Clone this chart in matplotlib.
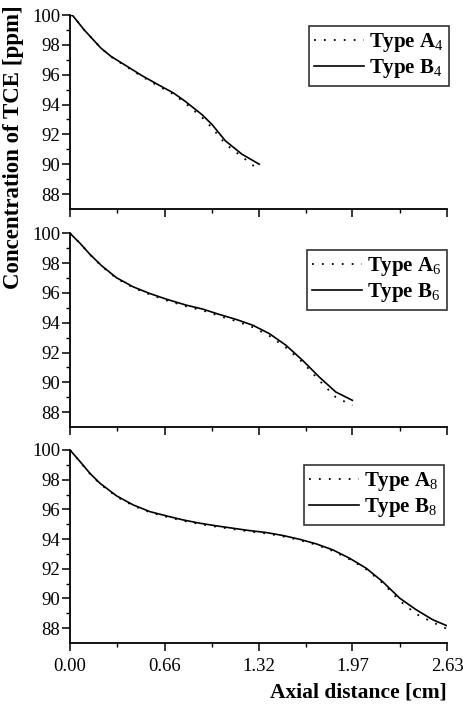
import numpy as np
import matplotlib
matplotlib.use('Agg')
import matplotlib.pyplot as plt
from matplotlib.ticker import FixedLocator

plt.rcParams['font.family'] = 'Liberation Serif'
plt.rcParams['mathtext.fontset'] = 'custom'
plt.rcParams['mathtext.rm'] = 'Liberation Serif'
plt.rcParams['mathtext.it'] = 'Liberation Serif'

# panel 1 : type 4
x4 = [0.0, 0.02, 0.099, 0.216, 0.287, 0.38, 0.498, 0.615, 0.721, 0.803, 0.92, 0.99,
      1.085, 1.20, 1.32]
a4 = [100.0, 99.95, 99.0, 97.78, 97.2, 96.62, 95.9, 95.25, 94.7, 94.1, 93.15, 92.45,
      91.35, 90.5, 89.6]
b4 = [100.0, 99.95, 99.0, 97.78, 97.22, 96.67, 95.96, 95.33, 94.78, 94.22, 93.33, 92.67,
      91.56, 90.67, 90.0]

# panel 2 : type 6
x6 = [0.0, 0.07, 0.139, 0.22, 0.324, 0.44, 0.556, 0.672, 0.81, 0.927, 1.043, 1.159,
      1.275, 1.39, 1.506, 1.622, 1.738, 1.854, 1.97]
a6 = [100.0, 99.33, 98.57, 97.8, 96.98, 96.36, 95.9, 95.5, 95.1, 94.82, 94.45, 94.1,
      93.7, 93.12, 92.33, 91.35, 90.13, 89.0, 88.45]
b6 = [100.0, 99.33, 98.59, 97.83, 97.02, 96.41, 95.96, 95.58, 95.18, 94.91, 94.55, 94.22,
      93.83, 93.27, 92.49, 91.48, 90.36, 89.35, 88.79]

# panel 3 : type 8
x8 = [0.0, 0.07, 0.139, 0.209, 0.325, 0.441, 0.557, 0.673, 0.789, 0.905, 1.021, 1.137,
      1.253, 1.37, 1.486, 1.60, 1.717, 1.834, 1.95, 2.066, 2.18, 2.30, 2.415, 2.53, 2.63]
a8 = [100.0, 99.2, 98.4, 97.72, 96.86, 96.25, 95.8, 95.5, 95.23, 95.01, 94.83, 94.67,
      94.51, 94.38, 94.18, 93.93, 93.62, 93.2, 92.64, 91.97, 91.05, 89.85, 88.95, 88.4, 87.95]
b8 = [100.0, 99.22, 98.43, 97.76, 96.91, 96.3, 95.85, 95.56, 95.29, 95.07, 94.89, 94.73,
      94.57, 94.44, 94.24, 93.99, 93.68, 93.27, 92.71, 92.04, 91.14, 90.02, 89.24, 88.57, 88.16]

panels = [(x4, a4, b4, '4'), (x6, a6, b6, '6'), (x8, a8, b8, '8')]

xticks = [0.0, 0.66, 1.32, 1.97, 2.63]
xlabels = ['0.00', '0.66', '1.32', '1.97', '2.63']
xminor = [0.33, 0.99, 1.645, 2.30]
yticks = [88, 90, 92, 94, 96, 98, 100]
yminor = [89, 91, 93, 95, 97, 99]

W, H = 463, 704
fig = plt.figure(figsize=(W / 100, H / 100), dpi=100)

# (top px, bottom px) of each panel, legend (right px, top px)
rows = [(15, 209), (233.3, 427), (450, 643)]
legpos = [(449, 26), (447, 250), (444, 465)]
left, right = 70, 447

for i, (x, a, b, n) in enumerate(panels):
    top, bot = rows[i]
    ax = fig.add_axes([left / W, 1 - bot / H, (right - left) / W, (bot - top) / H])
    ax.plot(x, a, color='black', linestyle=(0, (1, 4.5)), lw=1.3,
            label='Type A$_{' + n + '}$')
    ax.plot(x, b, color='black', linestyle='-', lw=1.2,
            label='Type B$_{' + n + '}$')
    ax.set_xlim(0, 2.63)
    ax.set_ylim(87, 100)
    ax.spines['top'].set_visible(False)
    ax.spines['right'].set_visible(False)
    ax.spines['left'].set_linewidth(1.3)
    ax.spines['bottom'].set_linewidth(1.3)
    ax.xaxis.set_major_locator(FixedLocator(xticks))
    ax.xaxis.set_minor_locator(FixedLocator(xminor))
    ax.yaxis.set_major_locator(FixedLocator(yticks))
    ax.yaxis.set_minor_locator(FixedLocator(yminor))
    ax.tick_params(which='major', length=6, width=1.1, labelsize=13.5)
    ax.tick_params(axis='y', which='major', pad=1)
    ax.tick_params(axis='x', which='major', pad=5)
    ax.tick_params(which='minor', length=3, width=1.0)
    if i < 2:
        ax.set_xticklabels([])
    else:
        ax.set_xticklabels(xlabels)
    lx, ly = legpos[i]
    leg = ax.legend(loc='upper right', bbox_to_anchor=(lx / W, 1 - ly / H),
                    bbox_transform=fig.transFigure,
                    frameon=True, fancybox=False, edgecolor='black',
                    prop={'weight': 'bold', 'size': 15}, handlelength=2.4,
                    handletextpad=0.25, borderpad=0.25, labelspacing=0.15,
                    borderaxespad=0)
    leg.get_frame().set_linewidth(1.2)

fig.text(0.03, 1 - 147 / H, 'Concentration of TCE [ppm]', rotation=90, ha='center',
         va='center', fontsize=16.5, fontweight='bold')
fig.text(right / W, 1 - 692 / H, 'Axial distance [cm]', ha='right', va='center',
         fontsize=15.5, fontweight='bold')

fig.savefig('out.png', dpi=100)
